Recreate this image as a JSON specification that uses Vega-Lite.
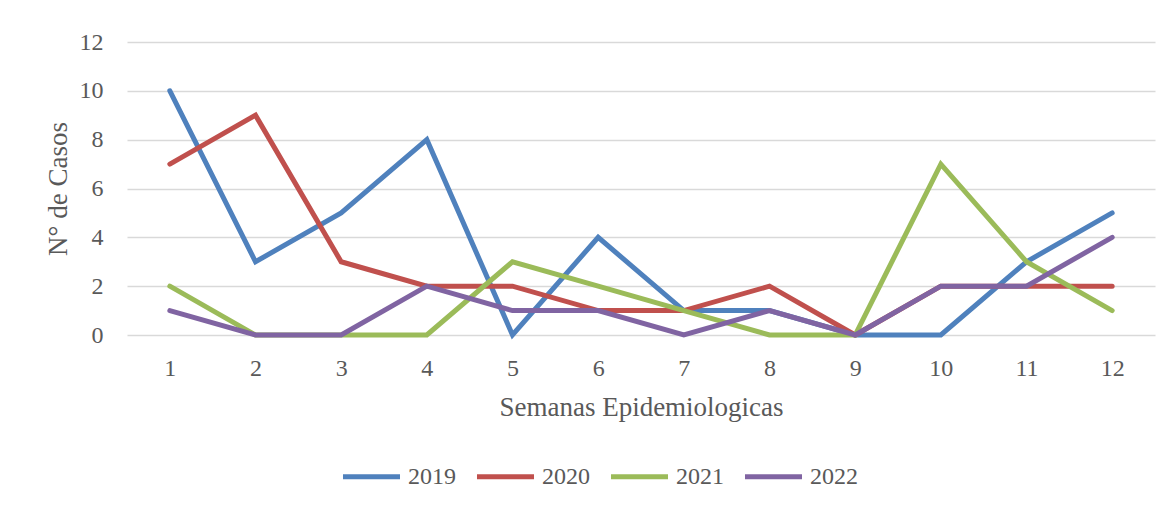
{
  "$schema": "https://vega.github.io/schema/vega-lite/v6.json",
  "autosize": "none",
  "width": 1028,
  "height": 293,
  "padding": {"left": 127, "top": 42, "right": 19, "bottom": 170},
  "background": "white",
  "config": {
    "view": {"stroke": null},
    "font": "Liberation Serif",
    "axis": {"labelFont": "Liberation Serif", "titleFont": "Liberation Serif", "labelColor": "#595959", "titleColor": "#595959", "labelFontSize": 24, "titleFontSize": 27, "titleFontWeight": "normal"},
    "legend": {"labelFont": "Liberation Serif", "labelFontSize": 24, "labelColor": "#595959"}
  },
  "data": {
    "values": [
      {"semana": 1, "anio": "2019", "casos": 10}, {"semana": 2, "anio": "2019", "casos": 3}, {"semana": 3, "anio": "2019", "casos": 5}, {"semana": 4, "anio": "2019", "casos": 8}, {"semana": 5, "anio": "2019", "casos": 0}, {"semana": 6, "anio": "2019", "casos": 4}, {"semana": 7, "anio": "2019", "casos": 1}, {"semana": 8, "anio": "2019", "casos": 1}, {"semana": 9, "anio": "2019", "casos": 0}, {"semana": 10, "anio": "2019", "casos": 0}, {"semana": 11, "anio": "2019", "casos": 3}, {"semana": 12, "anio": "2019", "casos": 5},
      {"semana": 1, "anio": "2020", "casos": 7}, {"semana": 2, "anio": "2020", "casos": 9}, {"semana": 3, "anio": "2020", "casos": 3}, {"semana": 4, "anio": "2020", "casos": 2}, {"semana": 5, "anio": "2020", "casos": 2}, {"semana": 6, "anio": "2020", "casos": 1}, {"semana": 7, "anio": "2020", "casos": 1}, {"semana": 8, "anio": "2020", "casos": 2}, {"semana": 9, "anio": "2020", "casos": 0}, {"semana": 10, "anio": "2020", "casos": 2}, {"semana": 11, "anio": "2020", "casos": 2}, {"semana": 12, "anio": "2020", "casos": 2},
      {"semana": 1, "anio": "2021", "casos": 2}, {"semana": 2, "anio": "2021", "casos": 0}, {"semana": 3, "anio": "2021", "casos": 0}, {"semana": 4, "anio": "2021", "casos": 0}, {"semana": 5, "anio": "2021", "casos": 3}, {"semana": 6, "anio": "2021", "casos": 2}, {"semana": 7, "anio": "2021", "casos": 1}, {"semana": 8, "anio": "2021", "casos": 0}, {"semana": 9, "anio": "2021", "casos": 0}, {"semana": 10, "anio": "2021", "casos": 7}, {"semana": 11, "anio": "2021", "casos": 3}, {"semana": 12, "anio": "2021", "casos": 1},
      {"semana": 1, "anio": "2022", "casos": 1}, {"semana": 2, "anio": "2022", "casos": 0}, {"semana": 3, "anio": "2022", "casos": 0}, {"semana": 4, "anio": "2022", "casos": 2}, {"semana": 5, "anio": "2022", "casos": 1}, {"semana": 6, "anio": "2022", "casos": 1}, {"semana": 7, "anio": "2022", "casos": 0}, {"semana": 8, "anio": "2022", "casos": 1}, {"semana": 9, "anio": "2022", "casos": 0}, {"semana": 10, "anio": "2022", "casos": 2}, {"semana": 11, "anio": "2022", "casos": 2}, {"semana": 12, "anio": "2022", "casos": 4}
    ]
  },
  "mark": {"type": "line", "strokeWidth": 5, "strokeCap": "round", "strokeJoin": "miter"},
  "encoding": {
    "x": {
      "field": "semana", "type": "ordinal", "title": "Semanas Epidemiologicas",
      "scale": {"type": "point", "padding": 0.5},
      "axis": {"labelAngle": 0, "ticks": false, "domain": false, "grid": false, "labelPadding": 21, "titlePadding": 14}
    },
    "y": {
      "field": "casos", "type": "quantitative", "title": "N° de Casos",
      "scale": {"domain": [0, 12]},
      "axis": {"values": [0, 2, 4, 6, 8, 10, 12], "ticks": false, "domain": false, "gridColor": "#d9d9d9", "gridWidth": 1.5, "labelPadding": 24, "titlePadding": 7}
    },
    "color": {
      "field": "anio", "type": "nominal", "title": null,
      "scale": {"domain": ["2019", "2020", "2021", "2022"], "range": ["#4f81bd", "#c0504d", "#9bbb59", "#8064a2"]},
      "legend": {"orient": "none", "legendX": 213, "legendY": 403, "direction": "horizontal", "symbolType": "stroke", "symbolStrokeWidth": 5, "symbolSize": 3250, "columnPadding": 10, "labelOffset": 5}
    }
  }
}
